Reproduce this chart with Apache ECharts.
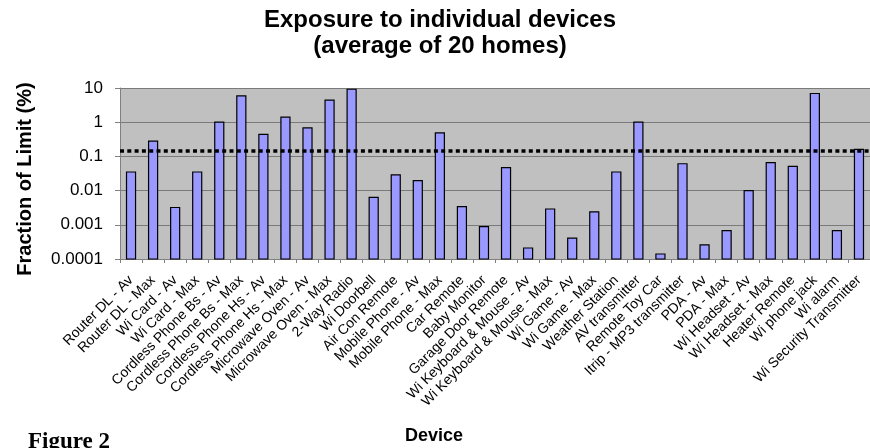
<!DOCTYPE html>
<html>
<head>
<meta charset="utf-8">
<script src="https://cdn.jsdelivr.net/npm/echarts@6/dist/echarts.min.js"></script>
<style>
html,body{margin:0;padding:0;background:#fff;}
#chart{width:870px;height:448px;}
</style>
</head>
<body>
<div id="chart"></div>
<script>
const categories = [
  'Router DL - Av','Router DL - Max','Wi Card - Av','Wi Card - Max',
  'Cordless Phone Bs - Av','Cordless Phone Bs - Max','Cordless Phone Hs - Av','Cordless Phone Hs - Max',
  'Microwave Oven - Av','Microwave Oven - Max','2-Way Radio','Wi Doorbell','Air Con Remote',
  'Mobile Phone - Av','Mobile Phone - Max','Car Remote','Baby Monitor','Garage Door Remote',
  'Wi Keyboard & Mouse - Av','Wi Keyboard & Mouse - Max','Wi Game - Av','Wi Game - Max',
  'Weather Station','AV transmitter','Remote Toy Car','Itrip - MP3 transmitter','PDA - Av','PDA - Max',
  'Wi Headset - Av','Wi Headset - Max','Heater Remote','Wi phone jack','Wi alarm','Wi Security Transmitter'
];
const fractionOfLimit = [
  0.035, 0.28, 0.0032, 0.035, 1.0, 5.9, 0.44, 1.4, 0.68, 4.4, 9.2, 0.0063, 0.029,
  0.0195, 0.49, 0.0034, 0.00089, 0.047, 0.00021, 0.0029, 0.00041, 0.0024,
  0.035, 1.0, 0.00014, 0.061, 0.00026, 0.00068, 0.010, 0.066, 0.051, 6.9, 0.00068, 0.16
];
const threshold = 0.15;
const yTicks = [0.0001, 0.001, 0.01, 0.1, 1, 10];
const yMin = yTicks[0];
const yMax = yTicks[yTicks.length - 1];

const chart = echarts.init(document.getElementById('chart'));
const FONT = 'Liberation Sans, Arial, sans-serif';

chart.setOption({
  animation: false,
  backgroundColor: '#ffffff',
  grid: {
    left: 120, top: 88, width: 755, height: 171,
    show: true, backgroundColor: '#c0c0c0', borderWidth: 0
  },
  xAxis: {
    type: 'category',
    data: categories,
    boundaryGap: true,
    axisLine: { show: true, lineStyle: { color: '#808080', width: 1 } },
    axisTick: { show: true, length: 4, interval: 0, lineStyle: { color: '#808080' } },
    axisLabel: {
      interval: 0, rotate: 45, fontSize: 14, color: '#000', fontFamily: FONT, margin: 19
    },
    splitLine: { show: false }
  },
  yAxis: {
    type: 'log',
    logBase: 10,
    min: yMin,
    max: yMax,
    axisLine: { show: true, lineStyle: { color: '#808080', width: 1 } },
    axisTick: { show: true, length: 5, lineStyle: { color: '#808080' } },
    axisLabel: {
      fontSize: 17, color: '#000', fontFamily: FONT, margin: 17,
      formatter: function (v) {
        const e = Math.round(Math.log10(v));
        const p = Math.pow(10, e);
        return e >= 0 ? String(p) : p.toFixed(-e);
      }
    },
    splitLine: { show: true, lineStyle: { color: '#7a7a7a', width: 1.2 } },
    minorTick: { show: false }
  },
  series: [{
    type: 'custom',
    data: fractionOfLimit.map((v, i) => [i, v]),
    encode: { x: 0, y: 1 },
    renderItem: function (params, api) {
      const idx = api.value(0);
      const v = api.value(1);
      const top = api.coord([idx, v]);
      const base = api.coord([idx, yMin]);
      const step = api.coord([1, 1])[0] - api.coord([0, 1])[0];
      const w = step * 0.41;
      return {
        type: 'rect',
        shape: { x: top[0] - w / 2, y: top[1], width: w, height: base[1] - top[1] },
        style: { fill: '#9999ff', stroke: '#000000', lineWidth: 1.2 }
      };
    },
    markLine: {
      silent: true,
      symbol: ['none', 'none'],
      label: { show: false },
      lineStyle: { color: '#000', width: 3.5, type: [4, 3.3] },
      data: [{ yAxis: threshold }]
    },
    z: 2
  }],
  graphic: [
    {
      type: 'text', x: 440, y: 7,
      style: {
        text: 'Exposure to individual devices\n(average of 20 homes)',
        font: 'bold 24px ' + FONT, fill: '#000', align: 'center', lineHeight: 26
      }
    },
    {
      type: 'text', rotation: Math.PI / 2, x: 25, y: 179,
      style: {
        text: 'Fraction of Limit (%)', font: 'bold 20px ' + FONT, fill: '#000',
        align: 'center', verticalAlign: 'middle'
      }
    },
    {
      type: 'text', x: 434, y: 436,
      style: {
        text: 'Device', font: 'bold 18px ' + FONT, fill: '#000',
        align: 'center', verticalAlign: 'middle'
      }
    },
    {
      type: 'text', x: 28, y: 431,
      style: {
        text: 'Figure 2', font: 'bold 23px Liberation Serif, Times New Roman, serif', fill: '#000',
        align: 'left', verticalAlign: 'top'
      }
    }
  ]
});
</script>
</body>
</html>
